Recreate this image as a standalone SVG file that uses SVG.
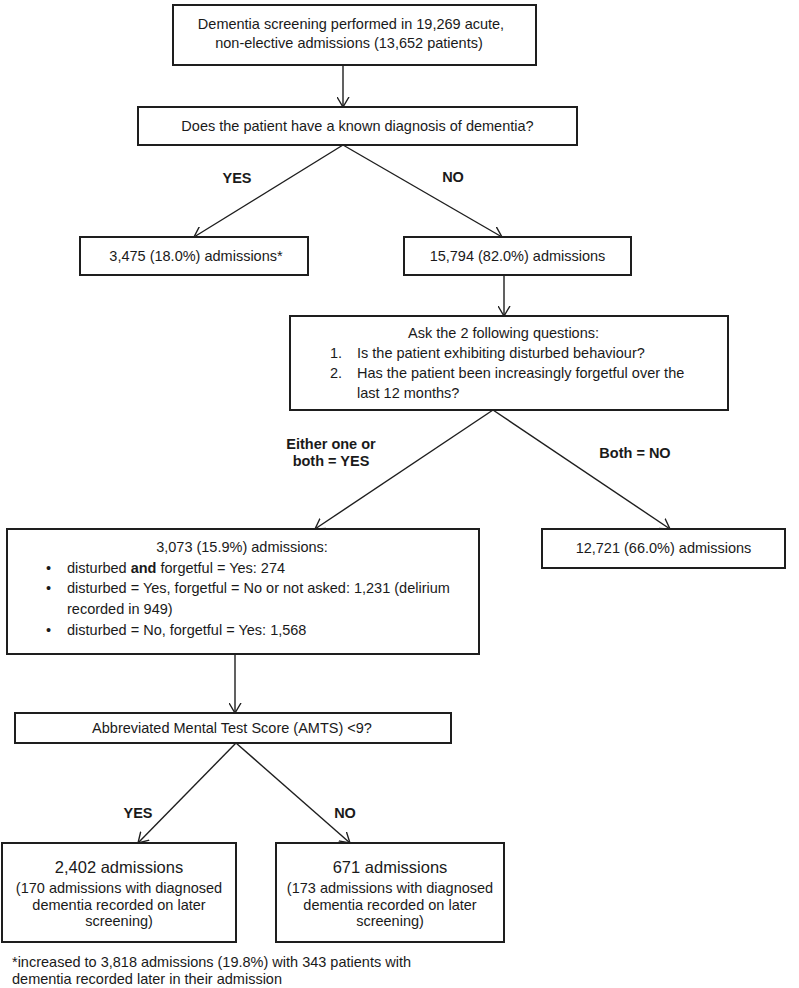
<svg xmlns="http://www.w3.org/2000/svg" width="799" height="988" viewBox="0 0 799 988">
<style>
  .box { fill: #ffffff; stroke: #1e1e1e; stroke-width: 2; }
  .t { font-family: "Liberation Sans", Arial, sans-serif; font-size: 14.5px; fill: #1a1a1a; }
  .c { text-anchor: middle; }
  .b { font-weight: bold; }
  .big { font-size: 16.5px; }
  .ln { stroke: #1e1e1e; stroke-width: 1.4; fill: none; marker-end: url(#arr); }
</style>
<defs>
  <marker id="arr" viewBox="0 0 10 13" refX="10" refY="6.5" markerWidth="10" markerHeight="13" markerUnits="userSpaceOnUse" orient="auto">
    <path d="M0,0.5 L10,6.5 L0,12.5" fill="none" stroke="#1e1e1e" stroke-width="1.4"/>
  </marker>
</defs>
<rect width="799" height="988" fill="#ffffff"/>

<g id="connectors">
  <line class="ln" x1="343" y1="65" x2="343" y2="107"/>
  <line class="ln" x1="343" y1="145" x2="194" y2="237"/>
  <line class="ln" x1="343" y1="145" x2="502" y2="237"/>
  <line class="ln" x1="504" y1="275" x2="504" y2="316"/>
  <line class="ln" x1="493" y1="410" x2="315" y2="529"/>
  <line class="ln" x1="493" y1="410" x2="670" y2="529"/>
  <line class="ln" x1="235" y1="654" x2="235" y2="713"/>
  <line class="ln" x1="236" y1="743" x2="138" y2="843"/>
  <line class="ln" x1="236" y1="743" x2="350" y2="843"/>
</g>

<g id="labels">
  <text class="t b c" x="237" y="183">YES</text>
  <text class="t b c" x="453" y="182">NO</text>
  <text class="t b c" x="331" y="449">Either one or</text>
  <text class="t b c" x="331" y="466">both = YES</text>
  <text class="t b c" x="635" y="458">Both = NO</text>
  <text class="t b c" x="138" y="818">YES</text>
  <text class="t b c" x="345" y="818">NO</text>
</g>

<g id="n1">
  <rect class="box" x="173" y="5" width="363" height="60"/>
  <text class="t c" x="351" y="29">Dementia screening performed in 19,269 acute,</text>
  <text class="t c" x="349" y="48">non-elective admissions (13,652 patients)</text>
</g>

<g id="n2">
  <rect class="box" x="138" y="107" width="439" height="38"/>
  <text class="t c" x="357.5" y="131">Does the patient have a known diagnosis of dementia?</text>
</g>

<g id="n3">
  <rect class="box" x="80" y="237" width="228" height="38"/>
  <text class="t c" x="196" y="261">3,475 (18.0%) admissions*</text>
</g>

<g id="n4">
  <rect class="box" x="404" y="237" width="227" height="38"/>
  <text class="t c" x="517.5" y="261">15,794 (82.0%) admissions</text>
</g>

<g id="n5">
  <rect class="box" x="290" y="316" width="438" height="94"/>
  <text class="t" x="408" y="338">Ask the 2 following questions:</text>
  <text class="t" x="330" y="358">1.</text>
  <text class="t" x="357" y="358">Is the patient exhibiting disturbed behaviour?</text>
  <text class="t" x="330" y="378">2.</text>
  <text class="t" x="357" y="378">Has the patient been increasingly forgetful over the</text>
  <text class="t" x="357" y="398">last 12 months?</text>
</g>

<g id="n6">
  <rect class="box" x="7" y="529" width="472" height="125"/>
  <text class="t c" x="242" y="552">3,073 (15.9%) admissions:</text>
  <text class="t" x="46" y="572.5">•</text>
  <text class="t" x="67" y="572.5">disturbed <tspan class="b">and</tspan> forgetful = Yes: 274</text>
  <text class="t" x="46" y="593">•</text>
  <text class="t" x="67" y="593">disturbed = Yes, forgetful = No or not asked: 1,231 (delirium</text>
  <text class="t" x="67" y="613.5">recorded in 949)</text>
  <text class="t" x="46" y="634.5">•</text>
  <text class="t" x="67" y="634.5">disturbed = No, forgetful = Yes: 1,568</text>
</g>

<g id="n7">
  <rect class="box" x="542" y="529" width="243" height="39"/>
  <text class="t c" x="663.5" y="553">12,721 (66.0%) admissions</text>
</g>

<g id="n8">
  <rect class="box" x="15" y="713" width="436" height="30"/>
  <text class="t c" x="232" y="733">Abbreviated Mental Test Score (AMTS) &lt;9?</text>
</g>

<g id="n9">
  <rect class="box" x="2" y="843" width="234" height="99"/>
  <text class="t big c" x="119" y="873">2,402 admissions</text>
  <text class="t c" x="119" y="893">(170 admissions with diagnosed</text>
  <text class="t c" x="119" y="909.5">dementia recorded on later</text>
  <text class="t c" x="119" y="926">screening)</text>
</g>

<g id="n10">
  <rect class="box" x="276" y="843" width="228" height="99"/>
  <text class="t big c" x="390" y="873">671 admissions</text>
  <text class="t c" x="390" y="893">(173 admissions with diagnosed</text>
  <text class="t c" x="390" y="909.5">dementia recorded on later</text>
  <text class="t c" x="390" y="926">screening)</text>
</g>

<g id="footnote">
  <text class="t" x="12" y="967">*increased to 3,818 admissions (19.8%) with 343 patients with</text>
  <text class="t" x="12" y="984">dementia recorded later in their admission</text>
</g>
</svg>
